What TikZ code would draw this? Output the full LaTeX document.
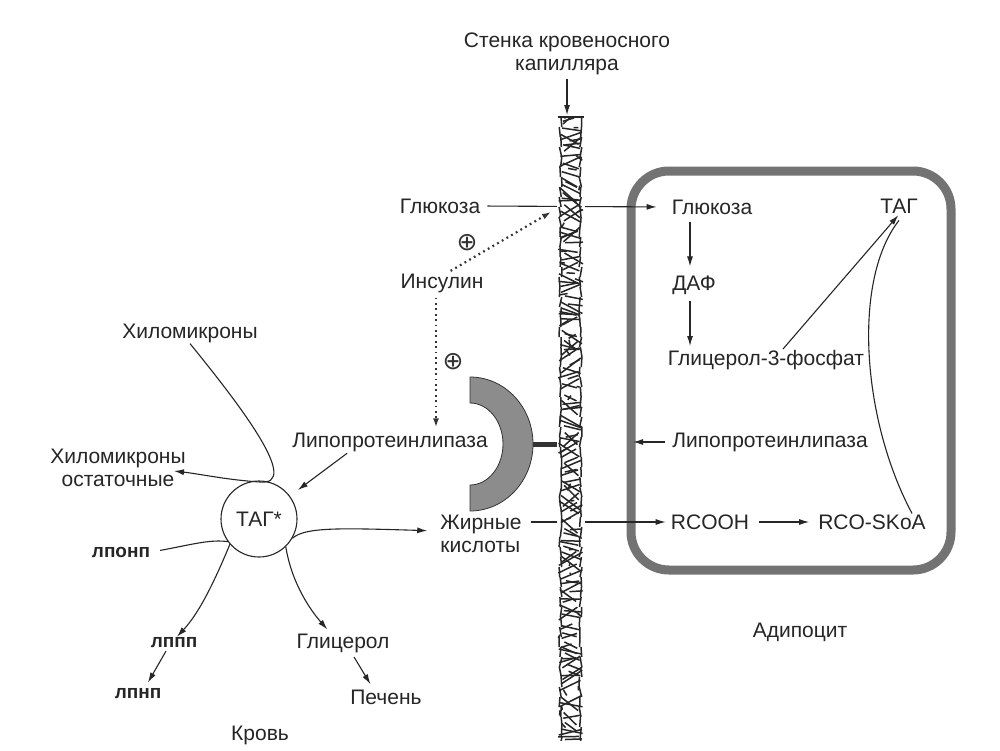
\documentclass[tikz,border=0pt]{standalone}
\usepackage{fontspec}
\setmainfont{Liberation Sans}
\newfontfamily\dejavu{DejaVu Sans}
\usetikzlibrary{arrows.meta}
\begin{document}
\begin{tikzpicture}[x=1pt,y=-1pt,
  lbl/.style={font=\fontsize{21}{23}\selectfont, text=black!85, inner sep=1pt},
  blbl/.style={lbl, font=\fontsize{19}{23}\selectfont\bfseries},
  plus/.style={font=\dejavu\fontsize{25}{26}\selectfont, text=black!80, inner sep=0pt},
  ln/.style={line width=1.1pt, draw=black!85},
  arr/.style={ln, -{Latex[length=10pt,width=6pt]}},
  dotarr/.style={line width=2.2pt, draw=black!80, dash pattern=on 1.8pt off 3.6pt, -{Latex[length=9pt,width=6pt]}},
  cell/.style={line width=9pt, draw=black!55, rounded corners=38pt},
  ring/.style={fill=black!45, draw=black!80, line width=0.8pt},
  stem/.style={line width=5pt, draw=black!80},
  wallln/.style={line width=1.5pt, draw=black!85},
]
\useasboundingbox (0,0) rectangle (1000,750);
\fill[white] (0,0) rectangle (1000,750);

% adipocyte membrane
\draw[cell] (631,171) rectangle (951,570);

% labels
\node[lbl, align=center] (wall) at (567,54) {Стенка кровеносного\\капилляра};
\node[lbl] (glL) at (440,206) {Глюкоза};
\node[plus] (plus1) at (467,243) {⊕};
\node[lbl] (ins) at (442,283) {Инсулин};
\node[plus] (plus2) at (453,362) {⊕};
\node[lbl] (chylo) at (190,333) {Хиломикроны};
\node[lbl, align=center] (rem) at (118,468) {Хиломикроны\\остаточные};
\node[lbl] (lplL) at (390,442) {Липопротеинлипаза};
\node[lbl, draw=black!85, line width=1.1pt, circle, minimum size=76pt] (tag) at (259,519) {ТАГ*};
\node[blbl] (lponp) at (121,552) {лпонп};
\node[blbl] (lppp) at (174,643) {лппп};
\node[blbl] (lpnp) at (138,694) {лпнп};
\node[lbl] (glyc) at (343,643) {Глицерол};
\node[lbl] (liver) at (386,697) {Печень};
\node[lbl] (blood) at (260,735) {Кровь};
\node[lbl, align=left] (fa) at (481,534) {Жирные\\кислоты};
\node[lbl] (glR) at (712,207) {Глюкоза};
\node[lbl] (tagR) at (899,206) {ТАГ};
\node[lbl] (daf) at (694,285) {ДАФ};
\node[lbl] (g3p) at (766,360) {Глицерол-3-фосфат};
\node[lbl] (lplR) at (770,442) {Липопротеинлипаза};
\node[lbl] (rcooh) at (710,522) {RCOOH};
\node[lbl] (rcoskoa) at (872,522) {RCO-SKoA};
\node[lbl] (adipo) at (800,632) {Адипоцит};

\coordinate (wtop) at (567,115);
\coordinate (gw) at (551,212);
\coordinate (remtip) at (174,471);
\coordinate (lpltip) at (633,442);
\coordinate (stemA) at (531,444);
\coordinate (stemB) at (560,444);

% horizontal transport lines (under the wall)
\draw[arr, shorten <=6pt, shorten >=14pt] (glL.east) -- (glR.west);
\draw[arr, shorten <=8pt, shorten >=4pt] (fa.east |- rcooh) -- (rcooh.west);

% lipoprotein lipase (half ring) anchored to wall
\draw[stem] (stemA) -- (stemB);
\draw[ring] (470,377) arc[start angle=-90, end angle=90, x radius=63, y radius=67]
  -- (470,511) -- (470,485) arc[start angle=90, end angle=-90, x radius=33, y radius=41] -- cycle;

% capillary wall
\fill[white] (557,116) rectangle (585,740);
\begin{scope}
\clip (556,116) rectangle (586,740);
\pgfmathsetseed{5}
\foreach \i in {0,...,115}{
  \pgfmathsetmacro{\ya}{117+\i*5.4+3*rnd}
  \pgfmathsetmacro{\xa}{558+7*rnd}
  \pgfmathsetmacro{\xb}{576+7*rnd}
  \pgfmathsetmacro{\yb}{\ya+(rnd-0.5)*30}
  \draw[wallln] (\xa,\ya) -- (\xb,\yb);
}
\foreach \i in {0,...,60}{
  \pgfmathsetmacro{\ya}{117+\i*10.3+3*rnd}
  \pgfmathsetmacro{\xa}{558+25*rnd}
  \pgfmathsetmacro{\xb}{558+25*rnd}
  \pgfmathsetmacro{\yb}{\ya+(rnd-0.5)*14}
  \draw[wallln] (\xa,\ya) -- (\xb,\yb);
}
\foreach \i in {0,...,62}{
  \pgfmathsetmacro{\ya}{117+\i*10}
  \pgfmathsetmacro{\xa}{559+3*rnd}
  \pgfmathsetmacro{\xb}{559+3*rnd}
  \pgfmathsetmacro{\xc}{579+3*rnd}
  \pgfmathsetmacro{\xd}{579+3*rnd}
  \draw[wallln] (\xa,\ya) -- (\xb,\ya+10);
  \draw[wallln] (\xc,\ya) -- (\xd,\ya+10);
}
\end{scope}
\draw[wallln] (558,117) -- (584,117);

% wall label arrow
\draw[arr, shorten <=3pt] (wall.south) -- (wtop);

% insulin effects
\draw[dotarr, shorten <=3pt] ([xshift=6pt]ins.north) -- (gw);
\draw[dotarr, shorten <=4pt, shorten >=4pt] ([xshift=-6pt]ins.south) -- ([xshift=-6pt]ins.south |- lplL.north);

% blood side
\draw[arr] (chylo.south) .. controls (240,405) and (302,486) .. (260,482)
  .. controls (228,480) and (200,474) .. (remtip);
\draw[arr, shorten <=1pt, shorten >=10pt] ([xshift=-42pt]lplL.south) -- (tag);
\draw[ln, shorten <=9pt] (lponp.east) .. controls (190,545) and (210,539) .. (tag.216);
\draw[arr] (tag.221) .. controls (215,580) and (200,612) .. ([xshift=3pt]lppp.north);
\draw[arr, shorten <=2pt, shorten >=6pt] ([xshift=-7pt]lppp.south) -- ([xshift=7pt]lpnp.north);
\draw[arr, shorten >=4pt] (tag.314) .. controls (292,585) and (312,612) .. ([xshift=-13pt]glyc.north);
\draw[arr, shorten <=4pt, shorten >=5pt] ([xshift=9pt]glyc.south) -- ([xshift=-13pt]liver.north);
\draw[arr, shorten >=12pt] (tag.330) .. controls (305,527) and (340,528) .. ([yshift=3pt]fa.west);

% adipocyte side
\draw[arr, shorten <=6pt, shorten >=8pt] ([xshift=-4pt]daf.north |- glR.south) -- ([xshift=-4pt]daf.north);
\draw[arr, shorten <=5pt, shorten >=3pt] ([xshift=-4pt]daf.south) -- ([xshift=-4pt]daf.south |- g3p.north);
\draw[arr, shorten >=1pt] ([xshift=17pt]g3p.north) -- (tagR.south);
\draw[ln] ([xshift=40pt]rcoskoa.north) .. controls (862,420) and (852,280) .. ([yshift=-6pt]tagR.south);
\draw[arr, shorten <=9pt, shorten >=8pt] (rcooh.east) -- (rcoskoa.west);
\draw[arr, shorten <=6pt] (lplR.west) -- (lpltip);

\end{tikzpicture}
\end{document}
